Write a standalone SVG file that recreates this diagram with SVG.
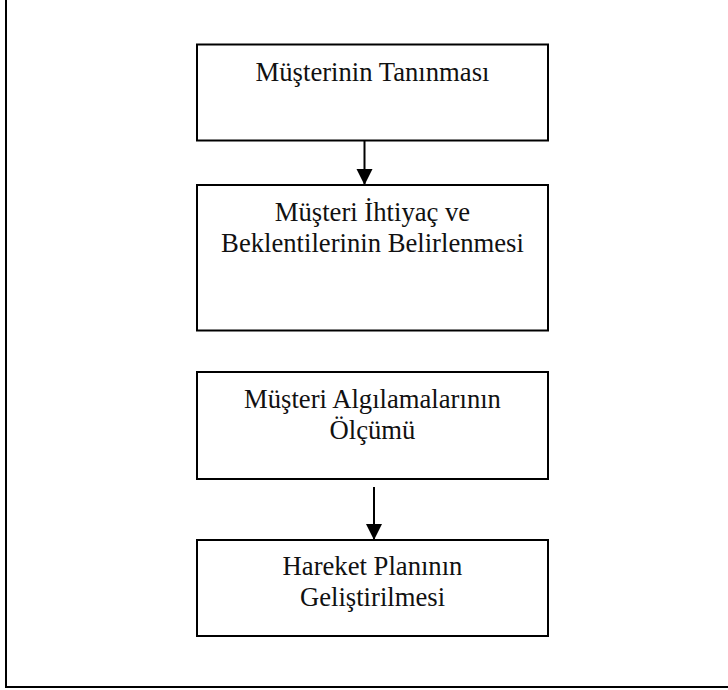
<svg xmlns="http://www.w3.org/2000/svg" width="728" height="690" viewBox="0 0 728 690">
  <style>
    .frame { fill: none; stroke: #000; stroke-width: 2; }
    .box { fill: #fff; stroke: #000; stroke-width: 2; }
    .label { font-family: "Liberation Serif", "Times New Roman", serif; font-size: 26.67px; fill: #111; text-anchor: middle; }
    .link { stroke: #000; stroke-width: 2; fill: none; }
  </style>
  <defs>
    <marker id="arrowhead" markerUnits="userSpaceOnUse" markerWidth="16" markerHeight="17" refX="16" refY="8" orient="auto">
      <path d="M0,0 L16,8 L0,16 Z" fill="#000"/>
    </marker>
  </defs>

  <rect width="728" height="690" fill="#fff"/>

  <!-- outer frame (top and right edges run past the page) -->
  <rect class="frame" x="6" y="-10" width="740" height="697"/>

  <g id="connectors">
    <line class="link" x1="364.5" y1="141" x2="364.5" y2="185" marker-end="url(#arrowhead)"/>
    <line class="link" x1="374" y1="487" x2="374" y2="540" marker-end="url(#arrowhead)"/>
  </g>

  <g id="node-tanima">
    <rect class="box" x="197" y="44.5" width="351" height="96"/>
    <text class="label" x="372.5" y="81">Müşterinin Tanınması</text>
  </g>

  <g id="node-ihtiyac">
    <rect class="box" x="197" y="185" width="351" height="145.5"/>
    <text class="label" x="372.5" y="221">Müşteri İhtiyaç ve</text>
    <text class="label" x="372.5" y="252">Beklentilerinin Belirlenmesi</text>
  </g>

  <g id="node-olcum">
    <rect class="box" x="197" y="372" width="351" height="107"/>
    <text class="label" x="372.5" y="408">Müşteri Algılamalarının</text>
    <text class="label" x="372.5" y="439">Ölçümü</text>
  </g>

  <g id="node-plan">
    <rect class="box" x="197" y="540" width="351" height="96"/>
    <text class="label" x="372.5" y="575">Hareket Planının</text>
    <text class="label" x="372.5" y="606">Geliştirilmesi</text>
  </g>
</svg>
